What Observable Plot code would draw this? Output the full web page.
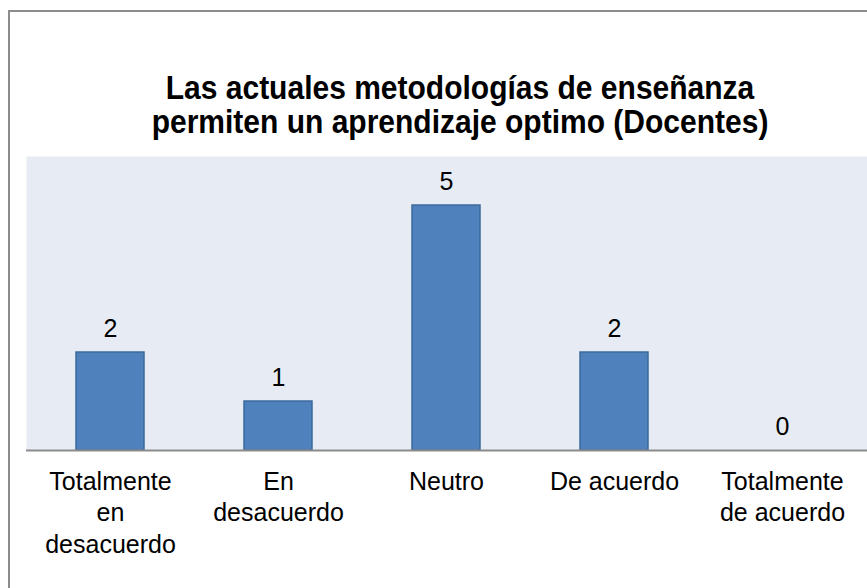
<!DOCTYPE html>
<html>
<head>
<meta charset="utf-8">
<script src="https://cdn.jsdelivr.net/npm/d3@7"></script>
<script src="https://cdn.jsdelivr.net/npm/@observablehq/plot@0.6"></script>
<style>
  html, body { margin: 0; padding: 0; background: #fff; }
  #wrap { position: relative; width: 867px; height: 588px; overflow: hidden; background: #fff; }
  #border { position: absolute; left: 8px; top: 10px; width: 1000px; height: 700px;
            border-left: 2px solid #8c8c8c; border-top: 2px solid #8c8c8c; box-sizing: border-box; }
  #title { position: absolute; left: 9px; width: 902px; top: 70px; text-align: center;
           font-family: "Liberation Sans", Arial, sans-serif; font-weight: bold; font-size: 30px;
           line-height: 31px; color: #000; transform: scaleY(1.1); transform-origin: center top; }
  #chart { position: absolute; left: 0; top: 156px; }
</style>
</head>
<body>
<div id="wrap">
  <div id="border"></div>
  <div id="title">Las actuales metodologías de enseñanza<br>permiten un aprendizaje optimo (Docentes)</div>
  <div id="chart"></div>
</div>
<script>
const categories = ["Totalmente en desacuerdo", "En desacuerdo", "Neutro", "De acuerdo", "Totalmente de acuerdo"];
const tickLabels = ["Totalmente\nen\ndesacuerdo", "En\ndesacuerdo", "Neutro", "De acuerdo", "Totalmente\nde acuerdo"];
const values = [2, 1, 5, 2, 0];

const data = categories.map((c, i) => ({category: c, value: values[i]}));
const labelOf = new Map(categories.map((c, i) => [c, tickLabels[i]]));

const chart = Plot.plot({
  width: 867,
  height: 432,
  marginTop: 0,
  marginBottom: 138,
  marginLeft: 26,
  marginRight: 0,
  style: {fontFamily: "'Liberation Sans', Arial, sans-serif", background: "transparent", color: "#000"},
  x: {domain: categories, paddingInner: 0.595, paddingOuter: 0.2976, label: null},
  y: {domain: [0, 6], axis: null},
  marks: [
    Plot.frame({fill: "#e7ecf4", stroke: null}),
    Plot.barY(data, {x: "category", y: "value", fill: "#4f81bd", stroke: "#3d6a9c", strokeWidth: 1.5}),
    Plot.ruleY([0], {stroke: "#8c8c8c", strokeWidth: 2}),
    Plot.text(data, {x: "category", y: "value", text: d => String(d.value), lineAnchor: "bottom", dy: -16, fontSize: 25, fill: "#000"}),
    Plot.axisX({tickSize: 0, tickPadding: 17, fontSize: 25, lineHeight: 1.26, tickFormat: d => labelOf.get(d), textOverflow: null, label: null})
  ]
});
document.getElementById("chart").appendChild(chart);
</script>
</body>
</html>
